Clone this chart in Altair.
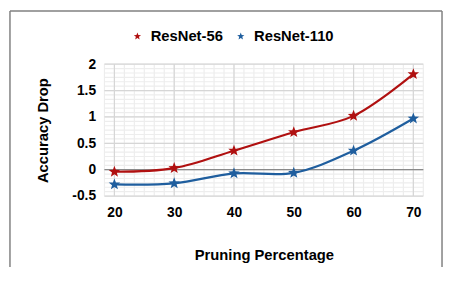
import altair as alt
import pandas as pd

pruning = [20, 30, 40, 50, 60, 70]
resnet56 = [-0.04, 0.03, 0.36, 0.71, 1.02, 1.81]
resnet110 = [-0.28, -0.26, -0.07, -0.06, 0.36, 0.97]
series = ["ResNet-56", "ResNet-110"]
colors = ["#B01010", "#1F5E9E"]
x_major = [20, 30, 40, 50, 60, 70]
y_major = [-0.5, 0, 0.5, 1, 1.5, 2]
x_minor = [18.3333 + i * (10 / 6) for i in range(33)]
y_minor = [-0.5 + i / 12 for i in range(31)]

STAR = ("M0,-1L0.247,-0.34L0.951,-0.309L0.399,0.13L0.588,0.809L0,0.42"
        "L-0.588,0.809L-0.399,0.13L-0.951,-0.309L-0.247,-0.34Z")

rows = []
for name, vals in zip(series, [resnet56, resnet110]):
    for p, v in zip(pruning, vals):
        rows.append({"p": float(p), "v": float(v), "s": name})
data = alt.Data(values=rows)

FONT = "Liberation Sans"
xscale = alt.Scale(domain=[18.3333, 71.6667], nice=False, zero=False)
yscale = alt.Scale(domain=[-0.5, 2], nice=False, zero=False)
cscale = alt.Scale(domain=series, range=colors)

xaxis = alt.Axis(
    values=x_major,
    format="d",
    grid=False,
    ticks=False,
    domain=False,
    labelOverlap=False,
    labelFont=FONT,
    labelFontWeight="bold",
    labelFontSize=14,
    labelColor="#000000",
    labelPadding=10,
    titleFont=FONT,
    titleFontWeight="bold",
    titleFontSize=15,
    titleColor="#000000",
    titlePadding=28,
)
yaxis = alt.Axis(
    values=y_major,
    labelExpr="'' + datum.value",
    grid=False,
    ticks=False,
    domain=False,
    labelOverlap=False,
    labelFont=FONT,
    labelFontWeight="bold",
    labelFontSize=14,
    labelColor="#000000",
    labelPadding=9,
    titleFont=FONT,
    titleFontWeight="bold",
    titleFontSize=15,
    titleColor="#000000",
    titlePadding=22,
)

XT = "Pruning Percentage"
YT = "Accuracy Drop"

vminor = alt.Chart(pd.DataFrame({"p": x_minor})).mark_rule(color="#ededed", strokeWidth=1.2).encode(
    x=alt.X("p:Q", scale=xscale, axis=xaxis, title=XT)
)
hminor = alt.Chart(pd.DataFrame({"v": y_minor})).mark_rule(color="#ededed", strokeWidth=1.2).encode(
    y=alt.Y("v:Q", scale=yscale, axis=yaxis, title=YT)
)
vmajor = alt.Chart(pd.DataFrame({"p": x_major})).mark_rule(color="#d6d6d6", strokeWidth=1.2).encode(
    x=alt.X("p:Q", scale=xscale, axis=xaxis, title=XT)
)
hmajor = alt.Chart(pd.DataFrame({"v": y_major})).mark_rule(color="#d6d6d6", strokeWidth=1.2).encode(
    y=alt.Y("v:Q", scale=yscale, axis=yaxis, title=YT)
)
zero = alt.Chart(pd.DataFrame({"v": [0.0]})).mark_rule(color="#8a8a8a", strokeWidth=1.2).encode(
    y=alt.Y("v:Q", scale=yscale, axis=yaxis, title=YT)
)

line_layers = []
for name, col in zip(series, colors):
    line_layers.append(
        alt.Chart(data)
        .transform_filter(alt.datum.s == name)
        .mark_line(interpolate="catmull-rom", strokeWidth=2.2, color=col)
        .encode(
            x=alt.X("p:Q", scale=xscale, axis=xaxis, title=XT),
            y=alt.Y("v:Q", scale=yscale, axis=yaxis, title=YT),
        )
    )

points = alt.Chart(data).mark_point(shape=STAR, filled=True, size=150, opacity=1).encode(
    x=alt.X("p:Q", scale=xscale, axis=xaxis, title=XT),
    y=alt.Y("v:Q", scale=yscale, axis=yaxis, title=YT),
    color=alt.Color(
        "s:N",
        scale=cscale,
        legend=alt.Legend(
            title=None,
            orient="none",
            legendX=26,
            legendY=-36,
            direction="horizontal",
            symbolType=STAR,
            symbolSize=60,
            labelFont=FONT,
            labelFontWeight="bold",
            labelFontSize=15,
            labelColor="#000000",
            columnPadding=10,
            labelOffset=6,
        ),
    ),
)

frame_color = "#808080"
frame_src = pd.DataFrame({"f": [0]})
frame_left = alt.Chart(frame_src).mark_rule(color=frame_color, strokeWidth=1.5).encode(
    x=alt.value(-96), y=alt.value(-54), y2=alt.value(250)
)
frame_top = alt.Chart(frame_src).mark_rule(color=frame_color, strokeWidth=1.5).encode(
    x=alt.value(-96), x2=alt.value(343), y=alt.value(-54)
)
frame_right = alt.Chart(frame_src).mark_rule(color=frame_color, strokeWidth=1.5).encode(
    x=alt.value(343), y=alt.value(-54), y2=alt.value(250)
)

chart = (
    alt.layer(vminor, hminor, vmajor, hmajor, zero, *line_layers, points,
              frame_left, frame_top, frame_right)
    .properties(
        width=324,
        height=134,
        autosize=alt.AutoSizeParams(type="none"),
        padding={"left": 98, "top": 55, "right": 20, "bottom": 70},
        background="#ffffff",
    )
    .configure_view(stroke=None)
)

chart.save("out.html", embed_options={"renderer": "svg", "actions": False})
